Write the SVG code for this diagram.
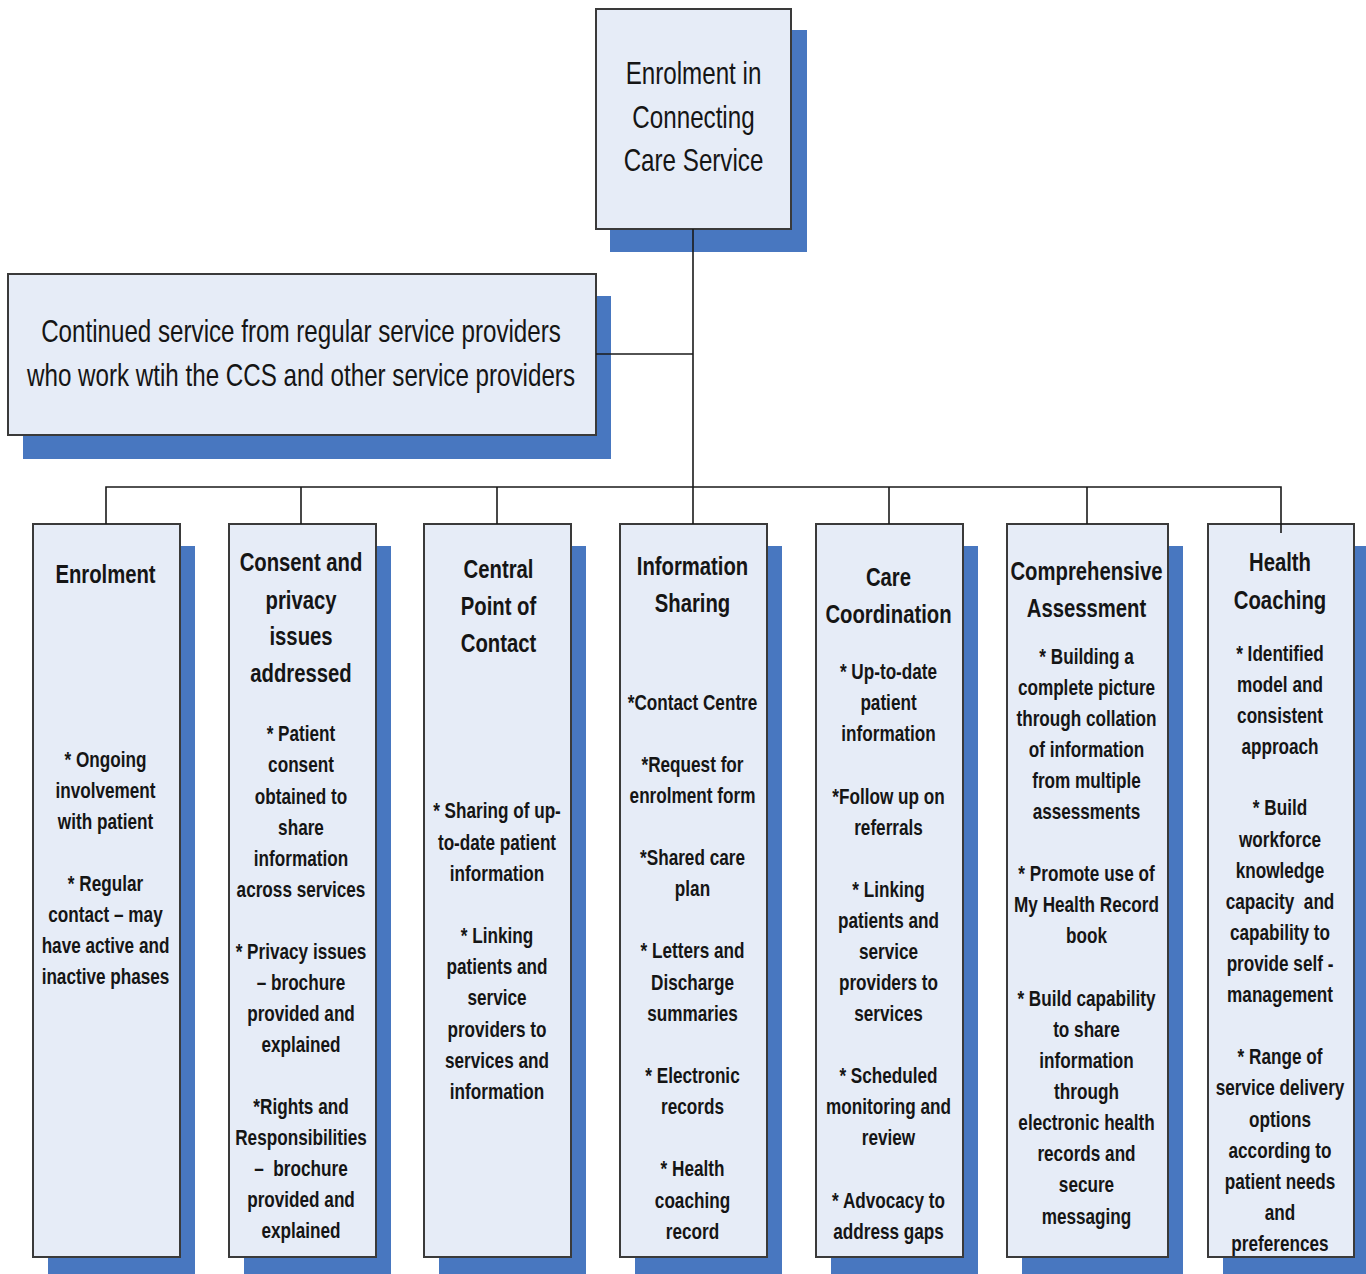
<svg xmlns="http://www.w3.org/2000/svg" width="1366" height="1274" viewBox="0 0 1366 1274">
<style>
.sh{fill:#4877C0;}
.bx{fill:#E6ECF7;stroke:#3A3A3A;stroke-width:2;}
.t{font-family:"Liberation Sans",Arial,sans-serif;fill:#151515;text-anchor:middle;}
.big{font-size:31px;}
.ttl{font-size:26px;font-weight:bold;}
.bd{font-size:22px;font-weight:bold;}
.pre{white-space:pre;}
.cn{fill:none;stroke:#1a1a1a;stroke-width:1.6;}
</style>
<rect width="1366" height="1274" fill="#ffffff"/>
<g id="node-top">
<rect class="sh" x="610" y="30" width="197" height="222"/>
<rect class="bx" x="596" y="9" width="195" height="220"/>
<text class="t big" transform="translate(693.5 0) scale(0.78 1)"><tspan x="0" y="84">Enrolment in</tspan><tspan x="0" y="128">Connecting</tspan><tspan x="0" y="171">Care Service</tspan></text>
</g>
<g id="node-continued">
<rect class="sh" x="23" y="296" width="588" height="163"/>
<rect class="bx" x="8" y="274" width="588" height="161"/>
<text class="t big" transform="translate(301 0) scale(0.78 1)"><tspan x="0" y="342">Continued service from regular service providers</tspan><tspan x="0" y="386">who work wtih the CCS and other service providers</tspan></text>
</g>
<g id="node-enrolment">
<rect class="sh" x="48" y="546" width="147" height="733"/>
<rect class="bx" x="33" y="524" width="147" height="733"/>
<text class="t ttl" transform="translate(105.5 0) scale(0.78 1)"><tspan x="0" y="583">Enrolment</tspan></text>
<text class="t bd" transform="translate(105.5 0) scale(0.78 1)"><tspan x="0" y="767">* Ongoing</tspan><tspan x="0" y="798">involvement</tspan><tspan x="0" y="829">with patient</tspan><tspan x="0" y="891">* Regular</tspan><tspan x="0" y="922">contact – may</tspan><tspan x="0" y="953">have active and</tspan><tspan x="0" y="984">inactive phases</tspan></text>
</g>
<g id="node-consent">
<rect class="sh" x="244" y="546" width="147" height="733"/>
<rect class="bx" x="229" y="524" width="147" height="733"/>
<text class="t ttl" transform="translate(301 0) scale(0.78 1)"><tspan x="0" y="571">Consent and</tspan><tspan x="0" y="609">privacy</tspan><tspan x="0" y="645">issues</tspan><tspan x="0" y="682">addressed</tspan></text>
<text class="t bd" transform="translate(301 0) scale(0.78 1)"><tspan x="0" y="741">* Patient</tspan><tspan x="0" y="772">consent</tspan><tspan x="0" y="804">obtained to</tspan><tspan x="0" y="835">share</tspan><tspan x="0" y="866">information</tspan><tspan x="0" y="897">across services</tspan><tspan x="0" y="959">* Privacy issues</tspan><tspan x="0" y="990">– brochure</tspan><tspan x="0" y="1021">provided and</tspan><tspan x="0" y="1052">explained</tspan><tspan x="0" y="1114">*Rights and</tspan><tspan x="0" y="1145">Responsibilities</tspan><tspan class="pre" x="0" y="1176">–  brochure</tspan><tspan x="0" y="1207">provided and</tspan><tspan x="0" y="1238">explained</tspan></text>
</g>
<g id="node-central">
<rect class="sh" x="439" y="546" width="147" height="733"/>
<rect class="bx" x="424" y="524" width="147" height="733"/>
<text class="t ttl" transform="translate(498.5 0) scale(0.78 1)"><tspan x="0" y="578">Central</tspan><tspan x="0" y="615">Point of</tspan><tspan x="0" y="652">Contact</tspan></text>
<text class="t bd" transform="translate(497 0) scale(0.78 1)"><tspan x="0" y="818">* Sharing of up-</tspan><tspan x="0" y="850">to-date patient</tspan><tspan x="0" y="881">information</tspan><tspan x="0" y="943">* Linking</tspan><tspan x="0" y="974">patients and</tspan><tspan x="0" y="1005">service</tspan><tspan x="0" y="1037">providers to</tspan><tspan x="0" y="1068">services and</tspan><tspan x="0" y="1099">information</tspan></text>
</g>
<g id="node-information">
<rect class="sh" x="635" y="546" width="147" height="733"/>
<rect class="bx" x="620" y="524" width="147" height="733"/>
<text class="t ttl" transform="translate(692.5 0) scale(0.78 1)"><tspan x="0" y="575">Information</tspan><tspan x="0" y="612">Sharing</tspan></text>
<text class="t bd" transform="translate(692.5 0) scale(0.78 1)"><tspan x="0" y="710">*Contact Centre</tspan><tspan x="0" y="772">*Request for</tspan><tspan x="0" y="803">enrolment form</tspan><tspan x="0" y="865">*Shared care</tspan><tspan x="0" y="896">plan</tspan><tspan x="0" y="958">* Letters and</tspan><tspan x="0" y="990">Discharge</tspan><tspan x="0" y="1021">summaries</tspan><tspan x="0" y="1083">* Electronic</tspan><tspan x="0" y="1114">records</tspan><tspan x="0" y="1176">* Health</tspan><tspan x="0" y="1208">coaching</tspan><tspan x="0" y="1239">record</tspan></text>
</g>
<g id="node-care">
<rect class="sh" x="831" y="546" width="147" height="733"/>
<rect class="bx" x="816" y="524" width="147" height="733"/>
<text class="t ttl" transform="translate(888.5 0) scale(0.78 1)"><tspan x="0" y="586">Care</tspan><tspan x="0" y="623">Coordination</tspan></text>
<text class="t bd" transform="translate(888.5 0) scale(0.78 1)"><tspan x="0" y="679">* Up-to-date</tspan><tspan x="0" y="710">patient</tspan><tspan x="0" y="741">information</tspan><tspan x="0" y="804">*Follow up on</tspan><tspan x="0" y="835">referrals</tspan><tspan x="0" y="897">* Linking</tspan><tspan x="0" y="928">patients and</tspan><tspan x="0" y="959">service</tspan><tspan x="0" y="990">providers to</tspan><tspan x="0" y="1021">services</tspan><tspan x="0" y="1083">* Scheduled</tspan><tspan x="0" y="1114">monitoring and</tspan><tspan x="0" y="1145">review</tspan><tspan x="0" y="1208">* Advocacy to</tspan><tspan x="0" y="1239">address gaps</tspan></text>
</g>
<g id="node-comprehensive">
<rect class="sh" x="1022" y="546" width="161" height="733"/>
<rect class="bx" x="1007" y="524" width="161" height="733"/>
<text class="t ttl" transform="translate(1086.5 0) scale(0.78 1)"><tspan x="0" y="580">Comprehensive</tspan><tspan x="0" y="617">Assessment</tspan></text>
<text class="t bd" transform="translate(1086.5 0) scale(0.78 1)"><tspan x="0" y="664">* Building a</tspan><tspan x="0" y="695">complete picture</tspan><tspan x="0" y="726">through collation</tspan><tspan x="0" y="757">of information</tspan><tspan x="0" y="788">from multiple</tspan><tspan x="0" y="819">assessments</tspan><tspan x="0" y="881">* Promote use of</tspan><tspan x="0" y="912">My Health Record</tspan><tspan x="0" y="943">book</tspan><tspan x="0" y="1006">* Build capability</tspan><tspan x="0" y="1037">to share</tspan><tspan x="0" y="1068">information</tspan><tspan x="0" y="1099">through</tspan><tspan x="0" y="1130">electronic health</tspan><tspan x="0" y="1161">records and</tspan><tspan x="0" y="1192">secure</tspan><tspan x="0" y="1224">messaging</tspan></text>
</g>
<g id="node-health">
<rect class="sh" x="1223" y="546" width="147" height="733"/>
<rect class="bx" x="1208" y="524" width="146" height="733"/>
<text class="t ttl" transform="translate(1280 0) scale(0.78 1)"><tspan x="0" y="571">Health</tspan><tspan x="0" y="609">Coaching</tspan></text>
<text class="t bd" transform="translate(1280 0) scale(0.78 1)"><tspan x="0" y="661">* Identified</tspan><tspan x="0" y="692">model and</tspan><tspan x="0" y="723">consistent</tspan><tspan x="0" y="754">approach</tspan><tspan x="0" y="815">* Build</tspan><tspan x="0" y="847">workforce</tspan><tspan x="0" y="878">knowledge</tspan><tspan class="pre" x="0" y="909">capacity  and</tspan><tspan x="0" y="940">capability to</tspan><tspan x="0" y="971">provide self -</tspan><tspan x="0" y="1002">management</tspan><tspan x="0" y="1064">* Range of</tspan><tspan x="0" y="1095">service delivery</tspan><tspan x="0" y="1127">options</tspan><tspan x="0" y="1158">according to</tspan><tspan x="0" y="1189">patient needs</tspan><tspan x="0" y="1220">and</tspan><tspan x="0" y="1251">preferences</tspan></text>
</g>
<g id="connectors">
<path class="cn" d="M693 229 V487"/>
<path class="cn" d="M596 354 H693"/>
<path class="cn" d="M106 524 V487 H1281 V533"/>
<path class="cn" d="M301 487 V524"/>
<path class="cn" d="M497 487 V524"/>
<path class="cn" d="M693 487 V524"/>
<path class="cn" d="M889 487 V524"/>
<path class="cn" d="M1087 487 V524"/>
</g>
</svg>
